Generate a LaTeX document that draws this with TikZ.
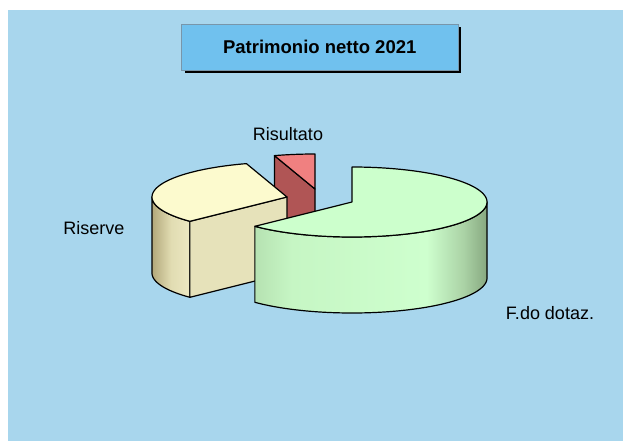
\documentclass[tikz,border=0pt]{standalone}
\usepackage{fontspec}
\setmainfont{Liberation Sans}
\definecolor{bgblue}{RGB}{168,214,237}
\definecolor{titlefill}{RGB}{112,193,238}
\definecolor{titleline}{RGB}{120,150,170}
\definecolor{gtop}{RGB}{204,255,204}
\definecolor{gwA}{RGB}{182,226,178}
\definecolor{gwB}{RGB}{198,246,196}
\definecolor{gwC}{RGB}{206,255,206}
\definecolor{gwD}{RGB}{170,210,165}
\definecolor{gwE}{RGB}{135,168,128}
\definecolor{ytop}{RGB}{252,250,206}
\definecolor{yface}{RGB}{230,226,186}
\definecolor{ywA}{RGB}{178,168,122}
\definecolor{ywB}{RGB}{225,220,178}
\definecolor{ywC}{RGB}{236,232,194}
\definecolor{rtop}{RGB}{240,128,128}
\definecolor{rface}{RGB}{176,85,85}
\pgfdeclarehorizontalshading{greenwall}{100bp}{color(0bp)=(gwA); color(25bp)=(gwA); color(33bp)=(gwB); color(62bp)=(gwC); color(70bp)=(gwD); color(75bp)=(gwE); color(100bp)=(gwE)}
\pgfdeclarehorizontalshading{yellowwall}{100bp}{color(0bp)=(ywA); color(25bp)=(ywA); color(50bp)=(ywB); color(75bp)=(ywC); color(100bp)=(ywC)}
\tikzset{
  edge/.style={draw=black, line width=1.2pt, line join=round},
  lbl/.style={font=\fontsize{18}{21}\selectfont, text=black, inner sep=0pt},
}
\begin{document}
\begin{tikzpicture}[x=1pt,y=-1pt]
\useasboundingbox (0,0) rectangle (623,441);
\fill[white] (0,0) rectangle (623,441);
\fill[bgblue] (8,10) rectangle (623,441);
% title
\fill[black] (184.5,27) rectangle (461,73.5);
\node[draw=titleline, line width=0.6pt, fill=titlefill, minimum width=276.5pt, minimum height=46.5pt, inner sep=0pt,
  font=\bfseries\fontsize{18.5}{22}\selectfont] (title) at (319.75,47.25) {Patrimonio netto 2021};
% geometry
\def\ra{135}\def\rb{35}\def\hh{76}
% red slice, centre (315,189)
\def\cx{315}\def\cy{189}
\path[edge, fill=rface] ({\cx+\ra*cos(107.5)},{\cy-\rb*sin(107.5)}) -- (\cx,\cy) -- (\cx,\cy+\hh)
  -- ({\cx+\ra*cos(107.5)},{\cy+\hh-\rb*sin(107.5)}) -- cycle;
\path[edge, fill=rtop] (\cx,\cy) -- plot[domain=90:107.5, samples=10, variable=\t] ({\cx+\ra*cos(\t)},{\cy-\rb*sin(\t)}) -- cycle;
% yellow slice, centre (287,197)
\def\cx{287}\def\cy{197}
\path[edge, shading=yellowwall] plot[domain=180:224, samples=30, variable=\t] ({\cx+\ra*cos(\t)},{\cy-\rb*sin(\t)})
  -- plot[domain=224:180, samples=30, variable=\t] ({\cx+\ra*cos(\t)},{\cy+\hh-\rb*sin(\t)}) -- cycle;
\path[edge, fill=yface] ({\cx+\ra*cos(224)},{\cy-\rb*sin(224)}) -- (\cx,\cy) -- (\cx,\cy+\hh)
  -- ({\cx+\ra*cos(224)},{\cy+\hh-\rb*sin(224)}) -- cycle;
\path[edge, fill=ytop] (\cx,\cy) -- plot[domain=107.5:224, samples=60, variable=\t] ({\cx+\ra*cos(\t)},{\cy-\rb*sin(\t)}) -- cycle;
% green slice, centre (352,202)
\def\cx{352}\def\cy{202}
\path[edge, shading=greenwall] plot[domain=224:360, samples=70, variable=\t] ({\cx+\ra*cos(\t)},{\cy-\rb*sin(\t)})
  -- plot[domain=360:224, samples=70, variable=\t] ({\cx+\ra*cos(\t)},{\cy+\hh-\rb*sin(\t)}) -- cycle;
\path[edge, fill=gtop] (\cx,\cy) -- plot[domain=90:-136, samples=110, variable=\t] ({\cx+\ra*cos(\t)},{\cy-\rb*sin(\t)}) -- cycle;
% labels
\node[lbl] (risultato) at (288,134) {Risultato};
\node[lbl] (riserve) at (94,228) {Riserve};
\node[lbl] (fdo) at (550,313) {F.do dotaz.};
\end{tikzpicture}
\end{document}
